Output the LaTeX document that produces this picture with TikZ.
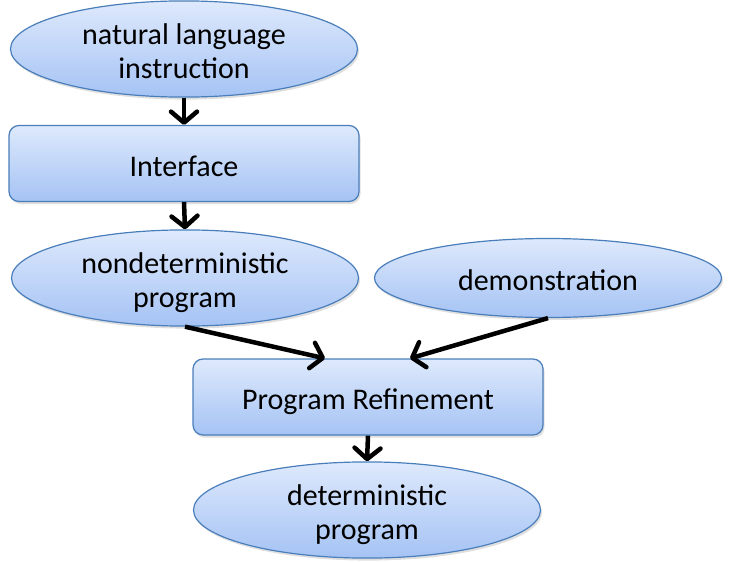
\documentclass[tikz,border=0pt]{standalone}
\usepackage{fontspec}
\setmainfont{Carlito}
\usetikzlibrary{shapes.geometric,arrows.meta,shadows}
\definecolor{edgeblue}{HTML}{4A7EBB}
\definecolor{topblue}{HTML}{DEE9FC}
\definecolor{botblue}{HTML}{A5C3F4}
\newcommand{\lowtxt}[1]{\raisebox{-6pt}[\height][\depth]{\begin{tabular}{@{}c@{}}#1\end{tabular}}}
\tikzset{
  base/.style={draw=edgeblue, line width=1.2pt, top color=topblue, bottom color=botblue,
    align=center, font=\fontsize{30}{34}\selectfont, inner sep=0pt,
    drop shadow={opacity=0.25, shadow xshift=1.5pt, shadow yshift=-2.5pt}},
  oval/.style={base, ellipse, minimum width=347pt, minimum height=79pt},
  box/.style={base, rectangle, rounded corners=10pt, minimum width=350pt, minimum height=76pt},
  flow/.style={line width=4.5pt, -{Straight Barb[length=11pt, width=26pt, round]}}
}
\begin{document}
\begin{tikzpicture}[x=1pt,y=-1pt]
\useasboundingbox (0,0) rectangle (729,562);
\node[oval] (nli) at (184,49) {\lowtxt{natural language\\instruction}};
\node[box] (iface) at (184,163.5) {\lowtxt{Interface}};
\node[oval] (nd) at (185,278) {\lowtxt{nondeterministic\\program}};
\node[oval] (demo) at (548,278) {\lowtxt{demonstration}};
\node[box] (ref) at (368,397) {\lowtxt{Program Refinement}};
\node[oval] (det) at (367,510) {\lowtxt{deterministic\\program}};
\draw[flow] (nli.south) -- (iface.north);
\draw[flow] (iface.south) -- (nd.north);
\draw[flow] (nd.south) -- ([xshift=-43pt]ref.north);
\draw[flow] (demo.south) -- ([xshift=42pt]ref.north);
\draw[flow] (ref.south) -- (det.north);
\end{tikzpicture}
\end{document}
